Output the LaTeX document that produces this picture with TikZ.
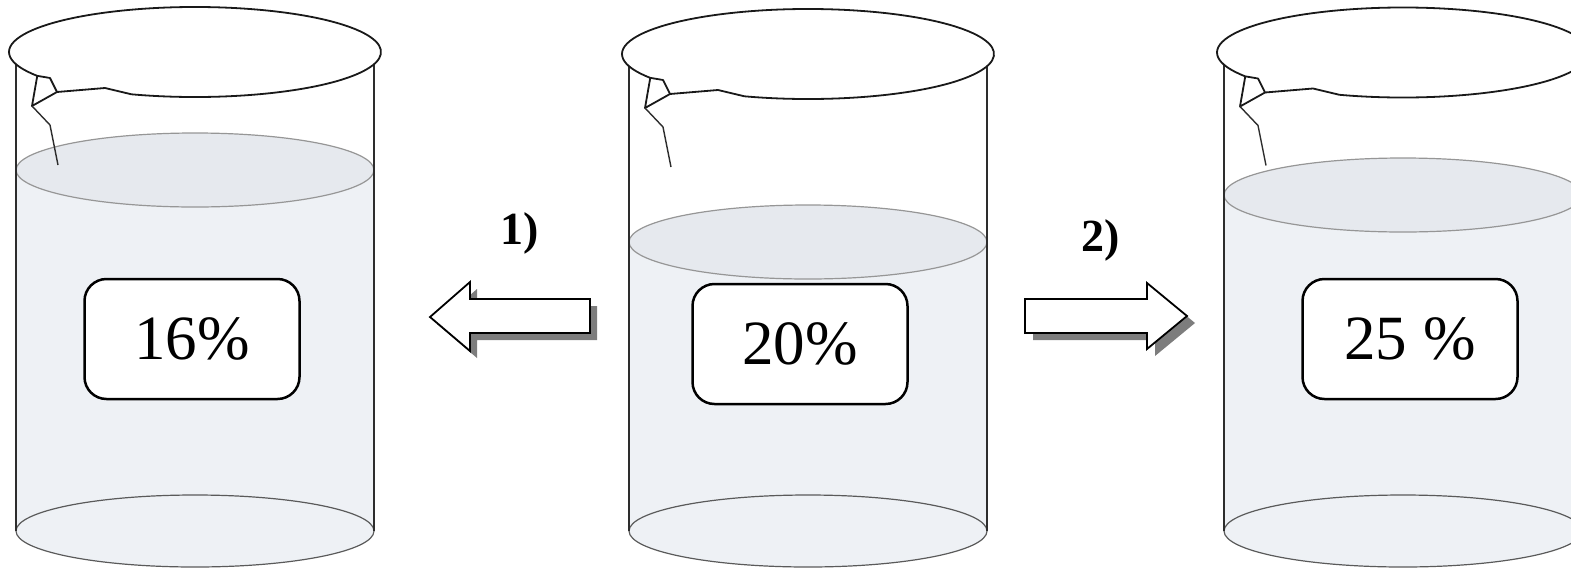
\documentclass[tikz,border=0pt]{standalone}
\usepackage{fontspec}
\setmainfont{Liberation Serif}
\definecolor{liquid}{RGB}{238,241,245}
\definecolor{surface}{RGB}{230,233,238}
\definecolor{surfline}{RGB}{150,150,150}
\definecolor{bottomline}{RGB}{90,90,90}
\definecolor{glass}{RGB}{45,45,45}
\definecolor{shade}{RGB}{125,125,125}
\tikzset{
  glassline/.style={draw=glass, line width=1.5pt},
  rimline/.style={draw=black!90, line width=1.8pt, line join=round},
  levelbox/.style={draw=black, line width=2.5pt, rounded corners=22pt, fill=white,
    minimum width=215pt, minimum height=120pt, inner sep=0pt,
    font=\fontsize{63}{70}\selectfont},
  steplabel/.style={font=\bfseries\fontsize{46}{50}\selectfont, inner sep=0pt},
  blockarrow/.style={draw=black, fill=white, line width=1.8pt, line join=miter},
  arrowshadow/.style={fill=shade, draw=none}
}
% #1 centre x, #2 rim centre y, #3 liquid surface y
\newcommand\drawbeaker[3]{%
  \begin{scope}[shift={(#1,0)}]
    % liquid column and floor
    \fill[liquid] (-179,#3) rectangle (179,531);
    \fill[liquid] (0,531) ellipse[x radius=179, y radius=36];
    \draw[draw=bottomline, line width=1.2pt] (0,531) ellipse[x radius=179, y radius=36];
    \draw[fill=surface, draw=surfline, line width=1.2pt] (0,#3) ellipse[x radius=179, y radius=37];
    % glass walls
    \draw[glassline] (-179,#2+12) -- (-179,531);
    \draw[glassline] (179,#2+12) -- (179,531);
    % rim with pouring spout
    \begin{scope}[shift={(0,#2)}]
      \draw[rimline] (110:186 and 45)
        arc[start angle=110, end angle=-212, x radius=186, y radius=45]
        -- (-145,26) -- (-138,40) -- (-90,36) -- (110:186 and 45);
      \draw[rimline] (148:186 and 45) -- (-163,54) -- (-138,40);
      \draw[draw=glass, line width=1.4pt, line join=round] (-163,54) -- (-145,73) -- (-137,113);
    \end{scope}
  \end{scope}}

\begin{document}
\begin{tikzpicture}[x=1pt, y=-1pt]
  \useasboundingbox (0,0) rectangle (1571,571);
  \clip (0,0) rectangle (1571,571);

  \drawbeaker{195}{52}{170}
  \drawbeaker{808}{54}{242}
  \drawbeaker{1403}{52.5}{195}

  \node[levelbox] (low)  at (192,339) {16\%};
  \node[levelbox] (mid)  at (800,344) {20\%};
  \node[levelbox] (high) at (1410,339) {25 \%};

  % step 1: block arrow pointing left
  \fill[arrowshadow] (437,324) -- (477,289) -- (477,306) -- (597,306) -- (597,340)
    -- (477,340) -- (477,358) -- cycle;
  \draw[blockarrow] (430,317) -- (470,282) -- (470,299) -- (590,299) -- (590,333)
    -- (470,333) -- (470,351) -- cycle;
  \node[steplabel] (step1) at (520,233) {1)};

  % step 2: block arrow pointing right
  \fill[arrowshadow] (1033,306) -- (1155,306) -- (1155,290) -- (1195,323) -- (1155,356)
    -- (1155,340) -- (1033,340) -- cycle;
  \draw[blockarrow] (1025,299) -- (1147,299) -- (1147,283) -- (1187,316) -- (1147,349)
    -- (1147,333) -- (1025,333) -- cycle;
  \node[steplabel] (step2) at (1101,240) {2)};
\end{tikzpicture}
\end{document}
